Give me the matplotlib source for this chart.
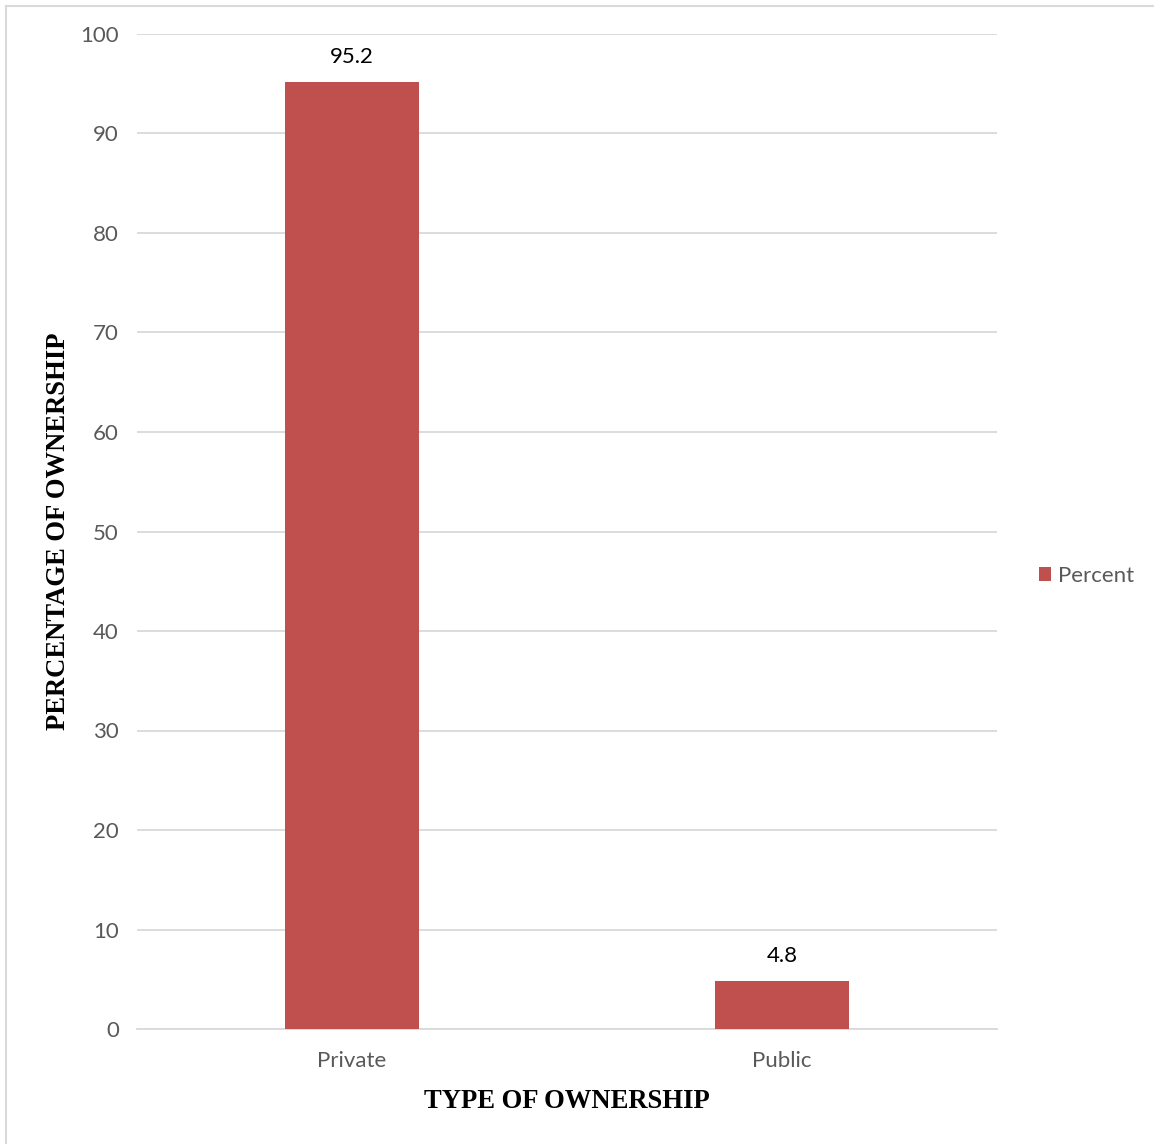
import numpy as np
import matplotlib
matplotlib.use("Agg")
from matplotlib import pyplot as plt
from matplotlib.patches import Rectangle

categories = ["Private", "Public"]
percent = [95.2, 4.8]
yticks = [0, 10, 20, 30, 40, 50, 60, 70, 80, 90, 100]

BAR = "#c0504d"
GRID = "#d9d9d9"
TICK = "#595959"
SANS = "Lato"

fig = plt.figure(figsize=(11.54, 11.44), dpi=100)
ax = fig.add_axes([137 / 1154, 115 / 1144, 860 / 1154, 995 / 1144])

x = np.arange(len(categories))
bars = ax.bar(x, percent, width=0.312, color=BAR, label="Percent", zorder=3)

for b, v in zip(bars, percent):
    ax.text(b.get_x() + b.get_width() / 2, v + 2.5, f"{v}", ha="center", va="center",
            fontsize=16, color="black", family=SANS)

ax.set_xlim(-0.5, len(categories) - 0.5)
ax.set_ylim(0, 100)
ax.set_yticks(yticks)
ax.set_xticks(x)
ax.set_xticklabels(categories)
ax.tick_params(axis="both", length=0, labelsize=16, labelcolor=TICK)
ax.tick_params(axis="y", pad=13)
ax.tick_params(axis="x", pad=16)
for lbl in ax.get_xticklabels() + ax.get_yticklabels():
    lbl.set_family(SANS)
ax.grid(axis="y", color=GRID, linewidth=1.3, zorder=0)
for sp in ["top", "right", "left"]:
    ax.spines[sp].set_visible(False)
ax.spines["bottom"].set_color(GRID)
ax.spines["bottom"].set_linewidth(1.3)

ax.set_xlabel("TYPE OF OWNERSHIP", family="Liberation Serif", fontweight="bold",
              fontsize=19.2, labelpad=13)
ax.set_ylabel("PERCENTAGE OF OWNERSHIP", family="Liberation Serif", fontweight="bold",
              fontsize=19.2, labelpad=7)

leg = fig.legend(handles=[bars], labels=["Percent"], loc="center left",
                 bbox_to_anchor=(1019 / 1154, 1 - 576 / 1144), frameon=False,
                 handlelength=0.55, handleheight=0.55, handletextpad=0.3,
                 prop={"family": SANS, "size": 16})
for t in leg.get_texts():
    t.set_color(TICK)

# light frame around the chart area
fig.patches.append(Rectangle((6 / 1154, -0.1), 1.2, 1 - 6 / 1144 + 0.1,
                             transform=fig.transFigure, fill=False,
                             edgecolor=GRID, linewidth=1.5))

fig.savefig("out.png", dpi=100)
